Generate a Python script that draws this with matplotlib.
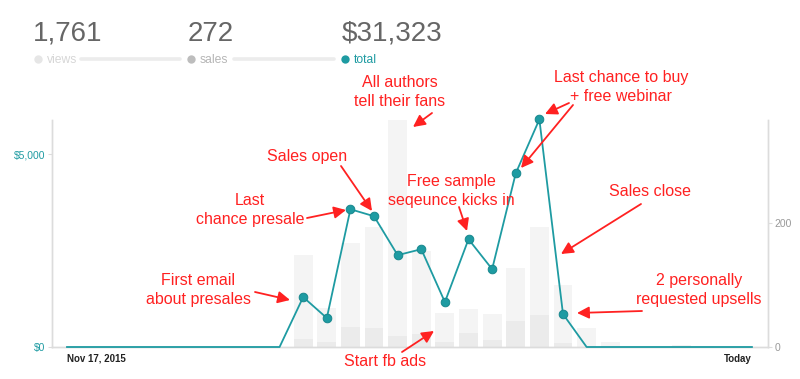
import numpy as np
import matplotlib
matplotlib.use("Agg")
import matplotlib.pyplot as plt
from matplotlib.lines import Line2D

# ---------------- data ----------------
n_days = 30
x_labels = ["Nov 17, 2015", "Today"]
total = [0, 0, 0, 0, 0, 0, 0, 0, 0, 0,
         1295, 751, 3574, 3393, 2383, 2538, 1166, 2797, 2020, 4507, 5905, 855,
         0, 0, 0, 0, 0, 0, 0, 0]
views = [0, 0, 0, 0, 0, 0, 0, 0, 0, 0,
         148, 63, 168, 194, 366, 155, 55, 61, 53, 127, 194, 100,
         31, 8, 0, 0, 4, 2, 0, 0]
sales = [0, 0, 0, 0, 0, 0, 0, 0, 0, 0,
         13, 8, 32, 31, 18, 21, 8, 23, 11, 42, 52, 7,
         0, 0, 0, 0, 0, 0, 0, 0]
headline_values = ["1,761", "272", "$31,323"]
headline_names = ["views", "sales", "total"]

annotations = [
    ("All authors\ntell their fans", (400, 92), [((432, 113), (413, 127))]),
    ("Last chance to buy\n+ free webinar", (621, 87), [((569, 103), (545, 114)), ((573, 105), (521, 168))]),
    ("Sales open", (307, 156), [((341, 166), (372, 211))]),
    ("Last\nchance presale", (250, 210), [((307, 218), (346, 210))]),
    ("First email\nabout presales", (198, 290), [((255, 292), (290, 300))]),
    ("Free sample\nseqeunce kicks in", (451, 191), [((459, 207), (467, 231))]),
    ("Sales close", (650, 191), [((641, 204), (561, 254))]),
    ("2 personally\nrequested upsells", (699, 290), [((642, 311), (577, 313))]),
    ("Start fb ads", (385, 362), [((402, 352), (434, 331))]),
]

# ---------------- style ----------------
W, H = 800, 379
TEAL = "#1e9ba2"
TEAL_DARK = "#17878d"
RED = "#ff2121"
VIEW_C = "#f4f4f4"
SALE_C = "#ebebeb"
AXIS_C = "#dcdcdc"
FONT = "Liberation Sans"

fig = plt.figure(figsize=(W / 100, H / 100), dpi=100)
fig.patch.set_facecolor("white")

def fp(x, y):
    return (x / W, 1 - y / H)

ax = fig.add_axes([52 / W, 32 / H, 716 / W, 227 / H])
ax2 = ax.twinx()
ax.set_zorder(ax2.get_zorder() + 1)
ax.patch.set_visible(False)

x = np.arange(n_days)
ax2.bar(x, views, width=0.8, color=VIEW_C, zorder=1)
ax2.bar(x, sales, width=0.8, color=SALE_C, zorder=2)

ax.plot(x, total, color=TEAL, lw=1.3, zorder=3, clip_on=False, solid_joinstyle="round")
t = np.array(total)
mask = t > 0
ax.plot(x[mask], t[mask], "o", color=TEAL, markersize=6.2,
        markeredgecolor=TEAL_DARK, markeredgewidth=0.7, zorder=4, clip_on=False)

ax.set_xlim(-0.635, n_days - 1 + 0.68)
ax.set_ylim(0, 5890)
ax2.set_ylim(0, 366.6)

for a in (ax, ax2):
    a.spines["top"].set_visible(False)
    for s in ("left", "right", "bottom"):
        a.spines[s].set_color(AXIS_C)
        a.spines[s].set_linewidth(1.0)

ax.set_yticks([0, 5000])
ax.set_yticklabels(["$0", "$5,000"])
ax.tick_params(axis="y", colors=AXIS_C, labelcolor=TEAL, length=3, width=0.8,
               pad=1.5, labelsize=7.5)
ax2.set_yticks([0, 200])
ax2.set_yticklabels(["0", "200"])
ax2.tick_params(axis="y", colors=AXIS_C, labelcolor="#999999", length=3, width=0.8,
                pad=1.5, labelsize=7.5)
for lab in ax.get_yticklabels() + ax2.get_yticklabels():
    lab.set_fontfamily(FONT)

ax.set_xticks([0, n_days - 1])
ax.set_xticklabels(x_labels)
ax.tick_params(axis="x", length=0, pad=5, labelsize=7, labelcolor="#222222")
xl = ax.get_xticklabels()
xl[0].set_ha("left")
xl[1].set_ha("right")
for lab in xl:
    lab.set_fontweight("bold")
    lab.set_fontfamily(FONT)

# ---------------- header ----------------
num_x = [34, 189, 343]
dot_x = [38, 191, 345]
lab_x = [47, 200, 354]
dot_c = ["#e6e6e6", "#bdbdbd", TEAL]
lab_c = ["#d6d6d6", "#b5b5b5", TEAL]
for i in range(3):
    fig.text(*fp(num_x[i] - 1, 41), headline_values[i], fontsize=20,
             family=FONT, color="#666666", ha="left", va="baseline")
    fig.add_artist(Line2D([fp(dot_x[i], 59)[0]], [fp(dot_x[i], 59)[1]], marker="o",
                          markersize=6, color=dot_c[i], markeredgewidth=0,
                          transform=fig.transFigure))
    fig.text(*fp(lab_x[i], 60), headline_names[i], fontsize=8.7,
             family=FONT, color=lab_c[i], ha="left", va="center")
for (x0, x1) in [(81, 180), (234, 334)]:
    p0, p1 = fp(x0, 59), fp(x1, 59)
    fig.add_artist(Line2D([p0[0], p1[0]], [p0[1], p1[1]], color="#ececec", lw=2.6,
                          solid_capstyle="round", transform=fig.transFigure))

# ---------------- annotations ----------------
for text, (tx, ty), arrows in annotations:
    fig.text(*fp(tx, ty), text, fontsize=11.5, family=FONT, color=RED,
             ha="center", va="center", linespacing=1.3, zorder=10)
    for (a0, a1) in arrows:
        ax.annotate("", xy=(a1[0], H - a1[1]), xytext=(a0[0], H - a0[1]),
                    xycoords="figure pixels", textcoords="figure pixels",
                    arrowprops=dict(arrowstyle="-|>,head_length=0.6,head_width=0.3",
                                    color=RED, lw=1.3, shrinkA=0, shrinkB=0,
                                    mutation_scale=12),
                    annotation_clip=False, zorder=10)

fig.savefig("out.png", dpi=100)
